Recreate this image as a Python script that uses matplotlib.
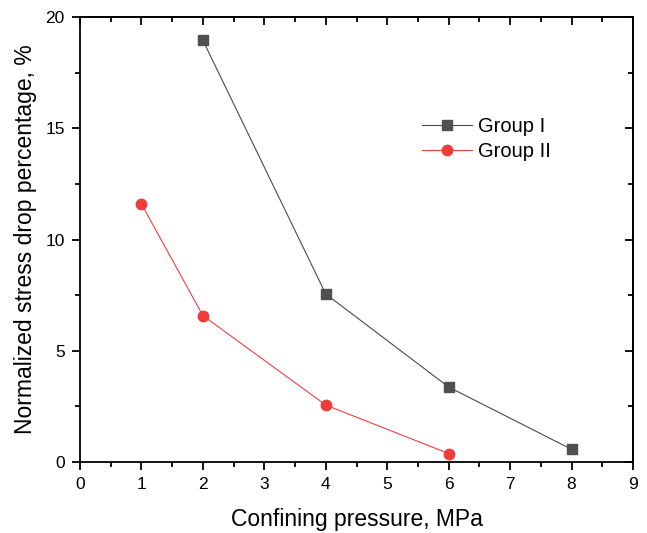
import matplotlib
matplotlib.use("Agg")
import matplotlib.pyplot as plt
from matplotlib.ticker import MultipleLocator

plt.rcParams['font.family'] = ['Liberation Sans', 'DejaVu Sans']

g1_x = [2, 4, 6, 8]
g1_y = [18.95, 7.55, 3.37, 0.57]
g2_x = [1, 2, 4, 6]
g2_y = [11.6, 6.58, 2.56, 0.38]

fig = plt.figure(figsize=(6.47, 5.33), dpi=100)
ax = fig.add_axes([80/647, 1 - 462/533, (633-80)/647, (462-17)/533])

ax.plot(g1_x, g1_y, color='#4a4a4a', lw=0.8, marker='s', ms=7, mfc='#505050', mec='#505050', label='Group I')
ax.plot(g2_x, g2_y, color='#f04040', lw=0.8, marker='o', ms=7.5, mfc='#ee3b3b', mec='#ee3b3b', label='Group II')

ax.set_xlim(0, 9)
ax.set_ylim(0, 20)
ax.xaxis.set_major_locator(MultipleLocator(1))
ax.xaxis.set_minor_locator(MultipleLocator(0.5))
ax.yaxis.set_major_locator(MultipleLocator(5))
ax.yaxis.set_minor_locator(MultipleLocator(2.5))

for s in ax.spines.values():
    s.set_linewidth(1.3)

ax.tick_params(which='both', direction='out', top=False, right=False, width=1.3)
ax.tick_params(which='major', length=6, labelsize=12.5, pad=5)
ax.tick_params(which='minor', length=3.5)

ax2 = ax.secondary_xaxis('top')
ax2.xaxis.set_major_locator(MultipleLocator(1))
ax2.xaxis.set_minor_locator(MultipleLocator(0.5))
ax2.tick_params(which='both', direction='in', labeltop=False, width=1.3)
ax2.tick_params(which='major', length=6)
ax2.tick_params(which='minor', length=3.5)
ax3 = ax.secondary_yaxis('right')
ax3.yaxis.set_major_locator(MultipleLocator(5))
ax3.yaxis.set_minor_locator(MultipleLocator(2.5))
ax3.tick_params(which='both', direction='in', labelright=False, width=1.3)
ax3.tick_params(which='major', length=6)
ax3.tick_params(which='minor', length=3.5)
for a in (ax2, ax3):
    for s in a.spines.values():
        s.set_linewidth(1.3)

ax.set_xlabel('Confining pressure, MPa', fontsize=16.5, labelpad=11)
ax.set_ylabel('Normalized stress drop percentage, %', fontsize=16.5, labelpad=6)

ax.legend(loc='upper left', bbox_to_anchor=(0.585, 0.815), frameon=False, fontsize=14.5,
          handlelength=2.5, handletextpad=0.3, labelspacing=0.3)

fig.savefig('out.png', dpi=100)
